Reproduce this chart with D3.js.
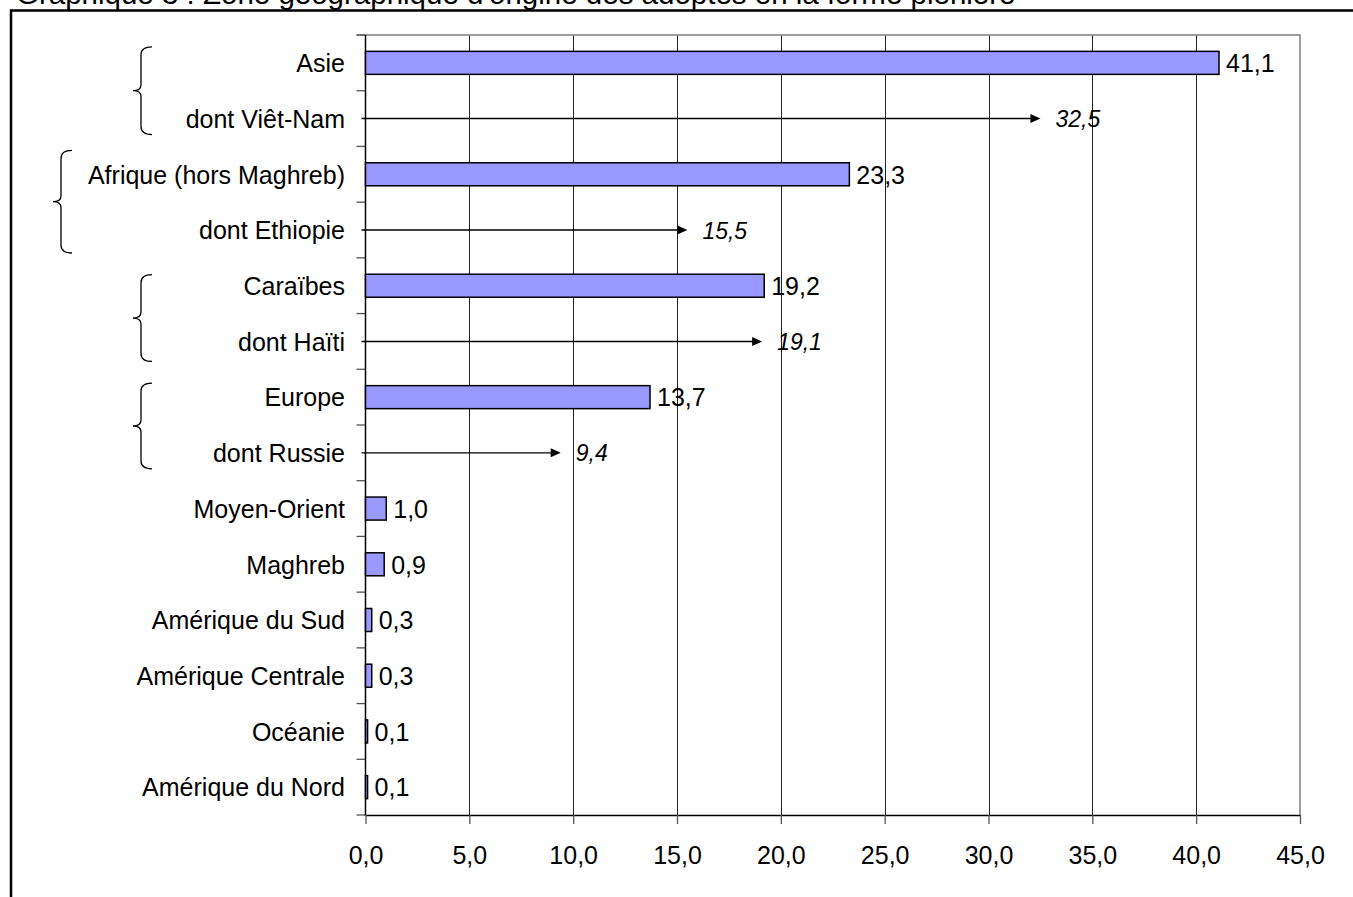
<!DOCTYPE html>
<html>
<head>
<meta charset="utf-8">
<script src="https://cdn.jsdelivr.net/npm/d3@7"></script>
<style>
  html, body { margin: 0; padding: 0; background: #fff; }
  svg { display: block; font-family: Arial, "Liberation Sans", sans-serif; }
</style>
</head>
<body>
<svg id="chart" width="1353" height="897"></svg>
<script>
// Zones d'origine (lignes du graphique, de haut en bas)
const categories = [
  "Asie", "dont Viêt-Nam",
  "Afrique (hors Maghreb)", "dont Ethiopie",
  "Caraïbes", "dont Haïti",
  "Europe", "dont Russie",
  "Moyen-Orient", "Maghreb", "Amérique du Sud",
  "Amérique Centrale", "Océanie", "Amérique du Nord"
];
// Part des adoptés (en %)
const values = [41.1, 32.5, 23.3, 15.5, 19.2, 19.1, 13.7, 9.4, 1.0, 0.9, 0.3, 0.3, 0.1, 0.1];
// "dont ..." lines are sub-totals shown as arrows rather than bars
const subRows = ["dont Viêt-Nam", "dont Ethiopie", "dont Haïti", "dont Russie"];
// Axis ticks
const xTicks = [0, 5, 10, 15, 20, 25, 30, 35, 40, 45];
// Groups bracketed on the left: [first row, last row]
const groups = [
  ["Asie", "dont Viêt-Nam"],
  ["Afrique (hors Maghreb)", "dont Ethiopie"],
  ["Caraïbes", "dont Haïti"],
  ["Europe", "dont Russie"]
];
const title = "Graphique 3 : Zone géographique d'origine des adoptés en la forme plénière";

const svg = d3.select("#chart");
const fr = d3.formatLocale({ decimal: ",", thousands: " ", grouping: [3], currency: ["", " €"] });
const fmt = fr.format(".1f");

const plot = { left: 365.5, right: 1300, top: 35, bottom: 815 };

const x = d3.scaleLinear().domain([0, 45]).range([plot.left, plot.right]);
const y = d3.scaleBand().domain(categories)
  .range([plot.top, plot.bottom])
  .paddingInner(0.587).paddingOuter(0.2935);
const step = y.step();
const cy = d => y(d) + y.bandwidth() / 2;

// Title (top of the page) and frame
svg.append("text")
  .attr("x", 16).attr("y", 4)
  .attr("font-size", 29.5).attr("fill", "#000")
  .text(title);
svg.append("rect")
  .attr("x", 11).attr("y", 10.5)
  .attr("width", 1360).attr("height", 900)
  .attr("fill", "none").attr("stroke", "#000").attr("stroke-width", 2.5);

// Vertical gridlines
svg.append("g").selectAll("line")
  .data(xTicks.filter(t => t > 0 && t < 45))
  .join("line")
  .attr("x1", d => Math.round(x(d)) + 0.5).attr("x2", d => Math.round(x(d)) + 0.5)
  .attr("y1", plot.top).attr("y2", plot.bottom)
  .attr("stroke", "#222").attr("stroke-width", 1);

// Plot area border (top and right in grey)
svg.append("path")
  .attr("d", `M${plot.left - 9},${plot.top} H${plot.right} V${plot.bottom}`)
  .attr("fill", "none").attr("stroke", "#808080").attr("stroke-width", 1.5);

// Category boundary ticks on the left axis
const bounds = d3.range(categories.length + 1).map(i => plot.top + i * step);
svg.append("g").selectAll("line")
  .data(bounds)
  .join("line")
  .attr("x1", plot.left - 9).attr("x2", plot.left)
  .attr("y1", d => d).attr("y2", d => d)
  .attr("stroke", "#555").attr("stroke-width", 1.3);

// Left axis line
svg.append("line")
  .attr("x1", plot.left).attr("x2", plot.left)
  .attr("y1", plot.top).attr("y2", plot.bottom + 0.5)
  .attr("stroke", "#000").attr("stroke-width", 1.5);

// Bottom axis
const xAxis = d3.axisBottom(x).tickValues(xTicks).tickFormat(fmt)
  .tickSize(9).tickSizeOuter(0).tickPadding(22);
const gx = svg.append("g")
  .attr("transform", `translate(0,${plot.bottom})`)
  .call(xAxis);
gx.select(".domain").attr("stroke", "#000").attr("stroke-width", 1.5);
gx.selectAll(".tick line").attr("stroke", "#555").attr("stroke-width", 1.3);
gx.selectAll(".tick text")
  .attr("font-size", 25).attr("fill", "#000")
  .attr("font-family", 'Arial, "Liberation Sans", sans-serif');

const rows = categories.map((c, i) => ({ c, v: values[i], sub: subRows.includes(c) }));

// Category labels
svg.append("g").selectAll("text")
  .data(rows)
  .join("text")
  .attr("x", 345).attr("y", d => cy(d.c))
  .attr("dy", "0.37em")
  .attr("text-anchor", "end")
  .attr("font-size", 25).attr("fill", "#000")
  .text(d => d.c);

// Bars
const barRows = rows.filter(d => !d.sub);
svg.append("g").selectAll("rect")
  .data(barRows)
  .join("rect")
  .attr("x", x(0)).attr("y", d => y(d.c))
  .attr("width", d => x(d.v) - x(0)).attr("height", y.bandwidth())
  .attr("fill", "#9999FF").attr("stroke", "#000").attr("stroke-width", 1.5);

svg.append("g").selectAll("text")
  .data(barRows)
  .join("text")
  .attr("x", d => x(d.v) + 7).attr("y", d => cy(d.c))
  .attr("dy", "0.37em")
  .attr("font-size", 25).attr("fill", "#000")
  .text(d => fmt(d.v));

// Sub-total arrows
const subData = rows.filter(d => d.sub);
const ga = svg.append("g");
ga.selectAll("line")
  .data(subData)
  .join("line")
  .attr("x1", plot.left - 4).attr("x2", d => x(d.v) - 8)
  .attr("y1", d => cy(d.c)).attr("y2", d => cy(d.c))
  .attr("stroke", "#000").attr("stroke-width", 1.4);
ga.selectAll("path")
  .data(subData)
  .join("path")
  .attr("d", d => {
    const tx = x(d.v), ty = cy(d.c);
    return `M${tx},${ty} L${tx - 10},${ty - 4.5} L${tx - 10},${ty + 4.5} Z`;
  })
  .attr("fill", "#000");
ga.selectAll("text")
  .data(subData)
  .join("text")
  .attr("x", d => x(d.v) + 15).attr("y", d => cy(d.c))
  .attr("dy", "0.37em")
  .attr("font-size", 23).attr("font-style", "italic").attr("fill", "#000")
  .text(d => fmt(d.v));

// Curly braces grouping a zone with its main country
const braceX = [152, 72, 152, 152];
const braceSpan = [[-16, 16], [-24, 23], [-11, 20], [-14, 16]];
svg.append("g").selectAll("path")
  .data(groups)
  .join("path")
  .attr("d", (g, i) => {
    const top = cy(g[0]) + braceSpan[i][0];
    const bot = cy(g[1]) + braceSpan[i][1];
    const mid = (top + bot) / 2;
    const xr = braceX[i], xv = xr - 11, xl = xr - 19, r = 8, r2 = 6;
    return `M${xr},${top} Q${xv},${top} ${xv},${top + r} L${xv},${mid - r2} ` +
      `Q${xv},${mid} ${xl},${mid} Q${xv},${mid} ${xv},${mid + r2} ` +
      `L${xv},${bot - r} Q${xv},${bot} ${xr},${bot}`;
  })
  .attr("fill", "none").attr("stroke", "#000").attr("stroke-width", 1.3);
</script>
</body>
</html>
